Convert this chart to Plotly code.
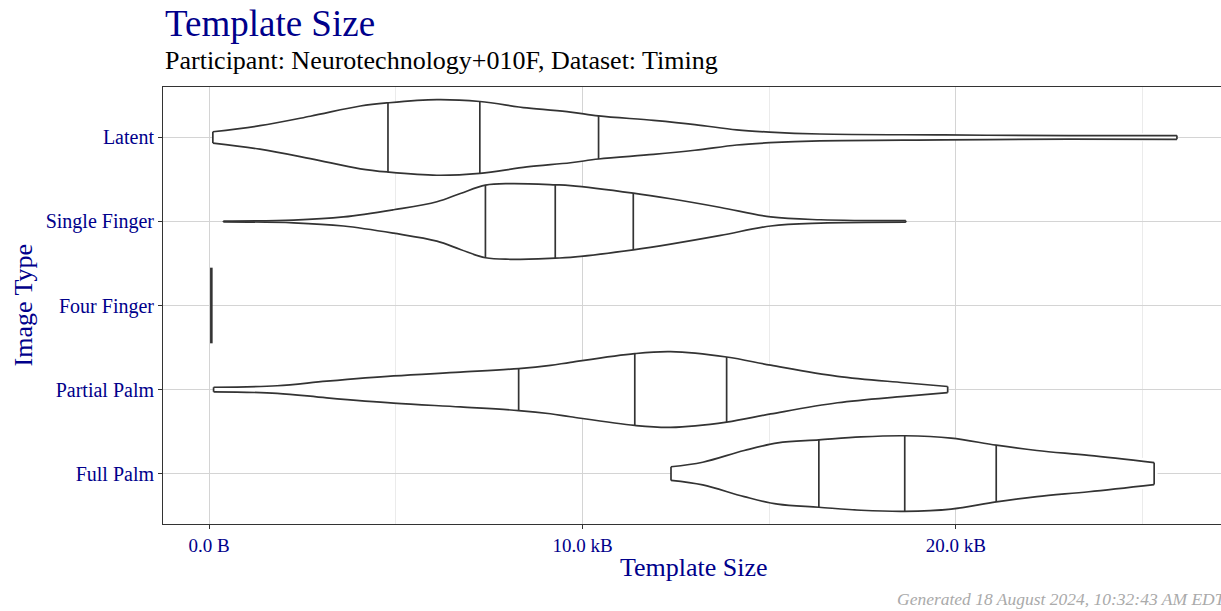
import plotly.graph_objects as go

# ---------------- data ----------------
categories = ["Full Palm", "Partial Palm", "Four Finger", "Single Finger", "Latent"]

x_tick_vals = [0, 10, 20]
x_tick_text = ["0.0 B", "10.0 kB", "20.0 kB"]
x_minor_vals = [5, 15, 25]

# density profiles: template size (kB) and relative half-width (0..1)
latent_kb = [0.10, 1.36, 2.71, 4.05, 4.79, 6.10, 7.25, 8.51, 9.68, 10.43, 11.90, 13.01, 14.13, 15.01, 16.36, 19.69, 23.03, 25.92]
latent_dens = [0.15, 0.31, 0.56, 0.83, 0.915, 1.0, 0.95, 0.78, 0.67, 0.57, 0.45, 0.34, 0.20, 0.14, 0.09, 0.066, 0.045, 0.05]
latent_q = [4.79, 7.25, 10.43]
latent_q_dens = [0.915, 0.95, 0.57]

single_kb = [0.38, 2.26, 3.60, 4.94, 6.10, 6.73, 7.40, 8.07, 9.27, 9.68, 11.36, 12.36, 13.70, 15.04, 16.38, 18.66]
single_dens = [0.01, 0.035, 0.12, 0.31, 0.52, 0.74, 0.96, 1.0, 0.97, 0.95, 0.75, 0.60, 0.37, 0.12, 0.045, 0.02]
single_q = [7.40, 9.27, 11.36]
single_q_dens = [0.96, 0.97, 0.75]

four_kb = [0.06]
four_dens = [1.0]

partial_kb = [0.12, 1.82, 3.15, 4.94, 6.73, 8.29, 9.14, 9.68, 11.40, 12.36, 13.86, 15.04, 16.83, 18.61, 19.78]
partial_dens = [0.06, 0.10, 0.22, 0.36, 0.46, 0.555, 0.64, 0.72, 0.95, 1.0, 0.86, 0.645, 0.35, 0.18, 0.08]
partial_q = [8.29, 11.40, 13.86]
partial_q_dens = [0.555, 0.95, 0.86]

full_kb = [12.37, 13.22, 14.33, 15.23, 16.33, 17.46, 18.63, 19.87, 21.08, 22.17, 23.56, 25.31]
full_dens = [0.18, 0.30, 0.61, 0.81, 0.89, 0.97, 1.0, 0.94, 0.75, 0.61, 0.48, 0.29]
full_q = [16.33, 18.63, 21.08]
full_q_dens = [0.89, 1.0, 0.75]

# ---------------- styling ----------------
FONT = "Liberation Serif"
BLUE = "#00008B"
OUTLINE = "#333333"
HALF = 0.45  # max half-width of a violin in category units
LW = 1.7

fig = go.Figure()

violins = [
    ("Full Palm", full_kb, full_dens, full_q, full_q_dens),
    ("Partial Palm", partial_kb, partial_dens, partial_q, partial_q_dens),
    ("Single Finger", single_kb, single_dens, single_q, single_q_dens),
    ("Latent", latent_kb, latent_dens, latent_q, latent_q_dens),
]

for name, xs, ds, qs, qds in violins:
    c = categories.index(name)
    top = [c + HALF * d for d in ds]
    bot = [c - HALF * d for d in ds]
    # white body
    fig.add_trace(go.Scatter(
        x=list(xs) + list(xs)[::-1], y=top + bot[::-1],
        mode="lines", line=dict(width=0, shape="spline", color="white"),
        fill="toself", fillcolor="white", hoverinfo="skip", showlegend=False))
    # outline top / bottom
    for ys in (top, bot):
        fig.add_trace(go.Scatter(
            x=xs, y=ys, mode="lines",
            line=dict(color=OUTLINE, width=LW, shape="spline"),
            hoverinfo="skip", showlegend=False))
    # end caps + quartile lines
    seg_x, seg_y = [], []
    for xv, dv in [(xs[0], ds[0]), (xs[-1], ds[-1])] + list(zip(qs, qds)):
        seg_x += [xv, xv, None]
        seg_y += [c - HALF * dv, c + HALF * dv, None]
    fig.add_trace(go.Scatter(
        x=seg_x, y=seg_y, mode="lines",
        line=dict(color=OUTLINE, width=LW),
        hoverinfo="skip", showlegend=False))

# Four Finger: degenerate violin (single value)
c4 = categories.index("Four Finger")
fig.add_trace(go.Scatter(
    x=[four_kb[0], four_kb[0]], y=[c4 - HALF * four_dens[0], c4 + HALF * four_dens[0]],
    mode="lines", line=dict(color=OUTLINE, width=2.6),
    hoverinfo="skip", showlegend=False))

W, H = 1221, 611
L, R, T, B = 163, 0, 87, 87
pw, ph = W - L - R, H - T - B


def px(x):
    """page pixel x -> paper x"""
    return (x - L) / pw


def py(y):
    """page pixel y -> paper y"""
    return (H - B - y) / ph


fig.update_layout(
    width=W, height=H,
    margin=dict(l=L, r=R, t=T, b=B),
    paper_bgcolor="white", plot_bgcolor="white",
    font=dict(family=FONT, color=BLUE, size=20),
    xaxis=dict(
        range=[-1.235, 27.10], tickvals=x_tick_vals, ticktext=x_tick_text,
        tickfont=dict(family=FONT, size=19, color=BLUE),
        showgrid=True, gridcolor="#d4d4d4", gridwidth=1,
        minor=dict(tickvals=x_minor_vals, showgrid=True, gridcolor="#ebebeb", gridwidth=1, ticklen=0),
        zeroline=False, showline=True, linecolor=OUTLINE, linewidth=1, mirror=True,
        ticks="outside", ticklen=4, tickcolor=OUTLINE, tickwidth=1,
    ),
    yaxis=dict(
        range=[-0.6, 4.6], tickvals=list(range(len(categories))), ticktext=categories,
        tickfont=dict(family=FONT, size=20, color=BLUE),
        showgrid=True, gridcolor="#d4d4d4", gridwidth=1,
        zeroline=False, showline=True, linecolor=OUTLINE, linewidth=1, mirror=False,
        ticks="outside", ticklen=4, tickcolor=OUTLINE, tickwidth=1,
    ),
    annotations=[
        dict(text="Template Size", xref="paper", yref="paper", x=0, y=py(46),
             xanchor="left", yanchor="bottom", showarrow=False,
             font=dict(family=FONT, size=37, color=BLUE)),
        dict(text="Participant: Neurotechnology+010F, Dataset: Timing", xref="paper", yref="paper",
             x=0, y=py(77), xanchor="left", yanchor="bottom", showarrow=False,
             font=dict(family=FONT, size=26, color="black")),
        dict(text="Template Size", xref="paper", yref="paper", x=px(694), y=py(584),
             xanchor="center", yanchor="bottom", showarrow=False,
             font=dict(family=FONT, size=26, color=BLUE)),
        dict(text="Image Type", xref="paper", yref="paper", x=px(23), y=0.5,
             xanchor="center", yanchor="middle", textangle=-90, showarrow=False,
             font=dict(family=FONT, size=26, color=BLUE)),
        dict(text="<i>Generated 18 August 2024, 10:32:43 AM EDT</i>", xref="paper", yref="paper",
             x=px(1228), y=py(611), xanchor="right", yanchor="bottom", showarrow=False,
             font=dict(family=FONT, size=17.5, color="#aaaaaa")),
    ],
)

# remove the default 8px page margin so the figure fills the window exactly
fig.write_html(
    "out.html",
    config={"displayModeBar": False},
    post_script="document.body.style.margin='0';document.body.style.overflow='hidden';",
)
